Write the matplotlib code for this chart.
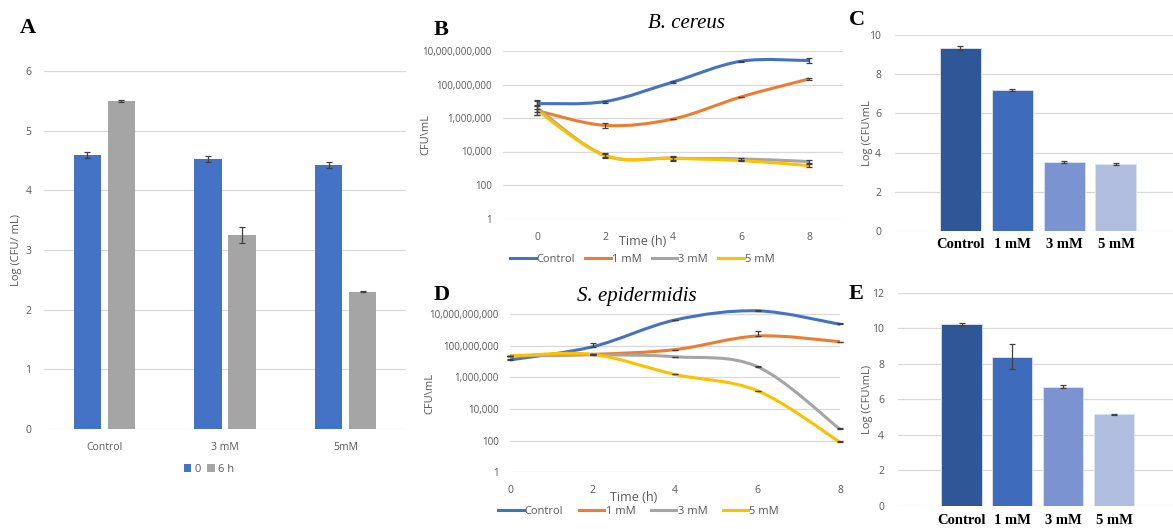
import numpy as np
import matplotlib.pyplot as plt
from matplotlib.path import Path
from matplotlib.patches import PathPatch
from matplotlib.ticker import FuncFormatter

W, H = 1173, 529

# panel A: log CFU/mL at 0 and 6 h
a_groups = ['Control', '3 mM', '5mM']
a_t0 = [4.60, 4.52, 4.43]
a_t0_err = [0.05, 0.05, 0.05]
a_t6 = [5.50, 3.25, 2.30]
a_t6_err = [0.02, 0.13, 0.01]

# panels B and D: time courses (log10 CFU/mL)
hours = [0, 2, 4, 6, 8]
series = ['Control', '1 mM', '3 mM', '5 mM']
b_logs = {
    'Control': [6.86, 6.98, 8.15, 9.39, 9.43],
    '1 mM': [6.44, 5.56, 5.94, 7.26, 8.33],
    '3 mM': [6.60, 3.76, 3.60, 3.56, 3.40],
    '5 mM': [6.46, 3.76, 3.60, 3.46, 3.16],
}
b_errs = {
    'Control': [0.17, 0.06, 0.05, 0.04, 0.16],
    '1 mM': [0.08, 0.17, 0.0, 0.0, 0.04],
    '3 mM': [0.45, 0.15, 0.15, 0.05, 0.10],
    '5 mM': [0.30, 0.10, 0.10, 0.05, 0.08],
}
d_logs = {
    'Control': [7.10, 7.93, 9.62, 10.20, 9.35],
    '1 mM': [7.35, 7.45, 7.75, 8.61, 8.25],
    '3 mM': [7.35, 7.42, 7.30, 6.67, 2.72],
    '5 mM': [7.35, 7.45, 6.18, 5.15, 1.90],
}
d_errs = {
    'Control': [0.03, 0.25, 0.0, 0.05, 0.05],
    '1 mM': [0.0, 0.0, 0.0, 0.33, 0.0],
    '3 mM': [0.0, 0.0, 0.0, 0.06, 0.05],
    '5 mM': [0.0, 0.0, 0.0, 0.0, 0.05],
}

# panels C and E: log CFU/mL after treatment
ce_groups = ['Control', '1 mM', '3 mM', '5 mM']
c_vals = [9.35, 7.20, 3.52, 3.42]
c_err = [0.10, 0.04, 0.06, 0.06]
e_vals = [10.22, 8.40, 6.70, 5.15]
e_err = [0.10, 0.70, 0.08, 0.02]

line_cols = {'Control': '#4472C4', '1 mM': '#ED7D31', '3 mM': '#A5A5A5', '5 mM': '#FFC000'}
bar_cols = ['#2F5696', '#3F6BBB', '#7B93D1', '#B1BEE0']
tick_col = '#595959'
grid_col = '#D9D9D9'
sans = ['Open Sans', 'DejaVu Sans']
serif = 'Liberation Serif'

plt.rcParams['font.family'] = sans

fig = plt.figure(figsize=(W / 100, H / 100), dpi=100)


def add_ax(l, t, r, b):
    return fig.add_axes([l / W, 1 - b / H, (r - l) / W, (b - t) / H])


def ftext(x, y, s, **kw):
    fig.text(x / W, 1 - y / H, s, **kw)


def style(ax):
    for s in ax.spines.values():
        s.set_visible(False)
    ax.tick_params(length=0, colors=tick_col, labelsize=7.5)
    ax.grid(axis='y', color=grid_col, lw=0.9)
    ax.set_axisbelow(True)


def smooth_path(xs, logs):
    # Excel-like smoothed line: cubic Bezier segments through the points
    p = np.column_stack([xs, logs]).astype(float)
    n = len(p)
    verts = [p[0]]
    codes = [Path.MOVETO]
    for i in range(n - 1):
        p0 = p[max(i - 1, 0)]
        p3 = p[min(i + 2, n - 1)]
        verts += [p[i] + (p[i + 1] - p0) / 6, p[i + 1] - (p3 - p[i]) / 6, p[i + 1]]
        codes += [Path.CURVE4] * 3
    verts = np.array(verts)
    verts[:, 1] = 10 ** verts[:, 1]
    return Path(verts, codes)


def time_panel(ax, logs, errs, upper_only=False):
    style(ax)
    ax.set_yscale('log')
    ax.set_ylim(1, 1e10)
    ax.set_yticks(10.0 ** np.arange(0, 11, 2))
    ax.minorticks_off()
    ax.yaxis.set_major_formatter(FuncFormatter(lambda v, p: f'{v:,.0f}'))
    ax.tick_params(axis='y', labelsize=7)
    ax.set_xticks(hours)
    for name in series:
        y = np.array(logs[name])
        e = np.array(errs[name])
        ax.add_patch(PathPatch(smooth_path(hours, y), fill=False,
                               ec=line_cols[name], lw=2.2, clip_on=False, zorder=3))
        ax.plot([], [], color=line_cols[name], lw=2.2, label=name)
        v = 10 ** y
        lo = np.zeros_like(v) if upper_only else v - 10 ** (y - e)
        ax.errorbar(hours, v, yerr=[lo, 10 ** (y + e) - v], fmt='none',
                    ecolor='#404040', elinewidth=0.9, capsize=2.2, capthick=0.9,
                    clip_on=False, zorder=4)
    ax.set_ylabel(r'CFU\mL', color=tick_col, fontsize=8)
    ax.set_xlabel('Time (h)', color=tick_col, fontsize=9)


# ---- A ----
axA = add_ax(44, 71, 406, 429)
style(axA)
xa = np.arange(len(a_groups))
axA.bar(xa - 0.141, a_t0, 0.224, color='#4472C4', label='0', yerr=a_t0_err,
        error_kw=dict(ecolor='#404040', elinewidth=0.9, capsize=2.5, capthick=0.9))
axA.bar(xa + 0.141, a_t6, 0.224, color='#A5A5A5', label='6 h', yerr=a_t6_err,
        error_kw=dict(ecolor='#404040', elinewidth=0.9, capsize=2.5, capthick=0.9))
axA.set_xlim(-0.5, 2.5)
axA.set_ylim(0, 6)
axA.set_xticks(xa, a_groups)
axA.tick_params(axis='x', pad=9)
axA.tick_params(axis='y', pad=9)
axA.set_ylabel('Log (CFU/ mL)', color=tick_col, fontsize=8)
axA.yaxis.set_label_coords(-0.06, 0.5)
axA.legend(loc='center', bbox_to_anchor=(0.455, -0.112), ncol=2, frameon=False,
           fontsize=8, labelcolor=tick_col, handlelength=0.7, handleheight=0.7,
           handletextpad=0.25, columnspacing=0.6)
ftext(28, 28, 'A', family=serif, fontweight='bold', fontsize=16, ha='center', va='center')

# ---- B ----
axB = add_ax(503, 51, 843, 218.5)
time_panel(axB, b_logs, b_errs)
axB.set_xlim(-1, 9)
axB.tick_params(axis='x', pad=10)
axB.tick_params(axis='y', pad=8)
axB.yaxis.set_label_coords(-0.21, 0.5)
axB.xaxis.set_label_coords(0.41, -0.10)
axB.legend(loc='center', bbox_to_anchor=(0.41, -0.245), ncol=4, frameon=False,
           fontsize=8, labelcolor=tick_col, handlelength=2.3, handletextpad=0.1,
           columnspacing=0.9)
ftext(441, 30, 'B', family=serif, fontweight='bold', fontsize=16, ha='center', va='center')
ftext(687, 23, 'B. cereus', family=serif, style='italic', fontsize=15, ha='center', va='center')

# ---- D ----
axD = add_ax(510, 314, 840, 472.3)
time_panel(axD, d_logs, d_errs, upper_only=True)
axD.set_xlim(0, 8)
axD.tick_params(axis='x', pad=9)
axD.tick_params(axis='y', pad=8)
axD.yaxis.set_label_coords(-0.225, 0.5)
axD.xaxis.set_label_coords(0.375, -0.12)
axD.legend(loc='center', bbox_to_anchor=(0.39, -0.25), ncol=4, frameon=False,
           fontsize=8, labelcolor=tick_col, handlelength=2.3, handletextpad=0.1,
           columnspacing=1.4)
ftext(442, 295, 'D', family=serif, fontweight='bold', fontsize=16, ha='center', va='center')
ftext(637, 297, 'S. epidermidis', family=serif, style='italic', fontsize=15, ha='center', va='center')


# ---- C and E ----
def bar_panel(ax, vals, errs, top, ylab):
    style(ax)
    xc = np.arange(len(ce_groups))
    ax.bar(xc, vals, 0.79, color=bar_cols, edgecolor='#DCE3F2', lw=0.6, yerr=errs,
           error_kw=dict(ecolor='#404040', elinewidth=0.9, capsize=2.2, capthick=0.9))
    ax.set_ylim(0, top)
    ax.set_yticks(np.arange(0, top + 1, 2))
    ax.set_xticks(xc, ce_groups)
    ax.tick_params(axis='y', pad=10)
    for lab in ax.get_xticklabels():
        lab.set_fontfamily(serif)
        lab.set_fontweight('bold')
        lab.set_fontsize(10.5)
        lab.set_color('black')
    ax.set_ylabel(ylab, color=tick_col, fontsize=8)


axC = add_ax(895, 35.3, 1173, 230.7)
bar_panel(axC, c_vals, c_err, 10, r'Log (CFU\mL')
axC.set_xlim(-1.26, 4.1)
axC.tick_params(axis='x', pad=5)
axC.yaxis.set_label_coords(-0.08, 0.5)
ftext(857, 20, 'C', family=serif, fontweight='bold', fontsize=16, ha='center', va='center')

axE = add_ax(898, 292.7, 1173, 506)
bar_panel(axE, e_vals, e_err, 12, r'Log (CFU\mL)')
axE.set_xlim(-1.25, 4.16)
axE.tick_params(axis='x', pad=6)
axE.yaxis.set_label_coords(-0.09, 0.5)
ftext(856, 294, 'E', family=serif, fontweight='bold', fontsize=16, ha='center', va='center')

fig.savefig('out.png', dpi=100)
